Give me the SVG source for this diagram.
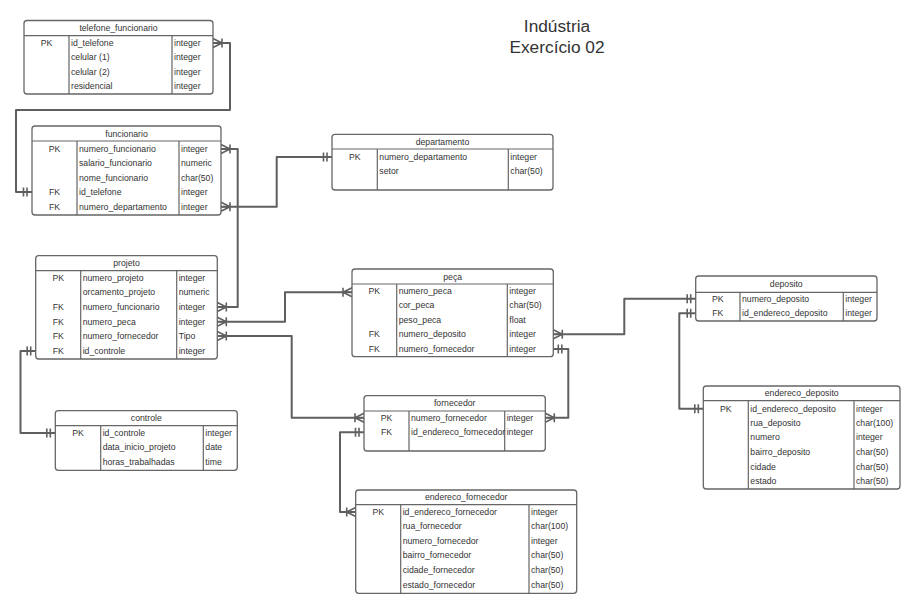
<svg xmlns="http://www.w3.org/2000/svg" width="917" height="609" viewBox="0 0 917 609">
  <style>
    .box { fill: #ffffff; stroke: #666666; stroke-width: 1.3; }
    .sep { stroke: #666666; stroke-width: 1.2; fill: none; }
    .t { font-family: "Liberation Sans", Arial, sans-serif; font-size: 8.7px; fill: #333333; }
    .c { text-anchor: middle; }
    .title { font-family: "Liberation Sans", Arial, sans-serif; font-size: 17.3px; fill: #333333; text-anchor: middle; }
    .link { fill: none; stroke: #5f5f5f; stroke-width: 2; stroke-linejoin: round; }
    .mk { fill: none; stroke: #5f5f5f; stroke-width: 1.6; }
  </style>
  <defs>
    <!-- crow's foot "one or many": toes on the entity edge, bar at the joint -->
    <marker id="many" markerUnits="userSpaceOnUse" orient="auto-start-reverse" overflow="visible" markerWidth="1" markerHeight="1" refX="0" refY="0">
      <path class="mk" d="M-9,0 L0,-4.5 M-9,0 L0,0 M-9,0 L0,4.5 M-9,-4.5 V4.5"/>
    </marker>
    <!-- "exactly one": double bar -->
    <marker id="one" markerUnits="userSpaceOnUse" orient="auto-start-reverse" overflow="visible" markerWidth="1" markerHeight="1" refX="0" refY="0">
      <path class="mk" d="M-5,-4.5 V4.5 M-8.5,-4.5 V4.5"/>
    </marker>
  </defs>

  <rect width="917" height="609" fill="#ffffff"/>

  <text class="title" x="557" y="31.5">Indústria</text>
  <text class="title" x="557" y="52.7">Exercício 02</text>

  <!-- relationships -->
  <g id="connectors">
    <path class="link" d="M213,43 H230 V110 H16 V192 H32" marker-start="url(#many)" marker-end="url(#one)"/>
    <path class="link" d="M221,149 H237.7 V307 H217.3" marker-start="url(#many)" marker-end="url(#many)"/>
    <path class="link" d="M221,206.7 H276.7 V157 H332" marker-start="url(#many)" marker-end="url(#one)"/>
    <path class="link" d="M217.3,321.7 H285 V292.3 H352" marker-start="url(#many)" marker-end="url(#many)"/>
    <path class="link" d="M217.3,336 H291.7 V417.7 H364" marker-start="url(#many)" marker-end="url(#many)"/>
    <path class="link" d="M35.7,351 H20.5 V433 H55.3" marker-start="url(#one)" marker-end="url(#one)"/>
    <path class="link" d="M553.3,334.3 H624.3 V298.7 H695.7" marker-start="url(#many)" marker-end="url(#one)"/>
    <path class="link" d="M553.3,349 H568.3 V417.7 H545.3" marker-start="url(#one)" marker-end="url(#many)"/>
    <path class="link" d="M695.7,313.3 H679.3 V408.7 H703.3" marker-start="url(#one)" marker-end="url(#one)"/>
    <path class="link" d="M364,432.3 H340 V512 H355.7" marker-start="url(#one)" marker-end="url(#many)"/>
  </g>

  <!-- telefone_funcionario -->
  <g id="telefone_funcionario">
    <rect class="box" x="24" y="20.5" width="189" height="73.5" rx="3"/>
    <path class="sep" d="M24,35.7 H213 M69,35.7 V94 M172,35.7 V94"/>
    <text class="t c" x="118.5" y="31">telefone_funcionario</text>
    <text class="t c" x="46.5" y="46">PK</text>
    <text class="t" x="71" y="46">id_telefone</text>
    <text class="t" x="174" y="46">integer</text>
    <text class="t" x="71" y="60.3">celular (1)</text>
    <text class="t" x="174" y="60.3">integer</text>
    <text class="t" x="71" y="74.7">celular (2)</text>
    <text class="t" x="174" y="74.7">integer</text>
    <text class="t" x="71" y="89">residencial</text>
    <text class="t" x="174" y="89">integer</text>
  </g>

  <!-- funcionario -->
  <g id="funcionario">
    <rect class="box" x="32" y="126" width="189" height="89" rx="3"/>
    <path class="sep" d="M32,141 H221 M77,141 V215 M179,141 V215"/>
    <text class="t c" x="126.5" y="136.5">funcionario</text>
    <text class="t c" x="54.5" y="152">PK</text>
    <text class="t" x="79" y="152">numero_funcionario</text>
    <text class="t" x="181" y="152">integer</text>
    <text class="t" x="79" y="166.3">salario_funcionario</text>
    <text class="t" x="181" y="166.3">numeric</text>
    <text class="t" x="79" y="180.7">nome_funcionario</text>
    <text class="t" x="181" y="180.7">char(50)</text>
    <text class="t c" x="54.5" y="195">FK</text>
    <text class="t" x="79" y="195">id_telefone</text>
    <text class="t" x="181" y="195">integer</text>
    <text class="t c" x="54.5" y="209.7">FK</text>
    <text class="t" x="79" y="209.7">numero_departamento</text>
    <text class="t" x="181" y="209.7">integer</text>
  </g>

  <!-- departamento -->
  <g id="departamento">
    <rect class="box" x="332" y="134.3" width="221" height="55.7" rx="3"/>
    <path class="sep" d="M332,149 H553 M377.3,149 V190 M508.3,149 V190"/>
    <text class="t c" x="442.5" y="144.7">departamento</text>
    <text class="t c" x="354.7" y="159.7">PK</text>
    <text class="t" x="379.3" y="159.7">numero_departamento</text>
    <text class="t" x="510.3" y="159.7">integer</text>
    <text class="t" x="379.3" y="174.3">setor</text>
    <text class="t" x="510.3" y="174.3">char(50)</text>
  </g>

  <!-- projeto -->
  <g id="projeto">
    <rect class="box" x="35.7" y="255.7" width="181.6" height="103.3" rx="3"/>
    <path class="sep" d="M35.7,270.7 H217.3 M80.7,270.7 V359 M176.7,270.7 V359"/>
    <text class="t c" x="126.5" y="266.2">projeto</text>
    <text class="t c" x="58.2" y="281">PK</text>
    <text class="t" x="82.7" y="281">numero_projeto</text>
    <text class="t" x="178.7" y="281">integer</text>
    <text class="t" x="82.7" y="295.3">orcamento_projeto</text>
    <text class="t" x="178.7" y="295.3">numeric</text>
    <text class="t c" x="58.2" y="310">FK</text>
    <text class="t" x="82.7" y="310">numero_funcionario</text>
    <text class="t" x="178.7" y="310">integer</text>
    <text class="t c" x="58.2" y="324.7">FK</text>
    <text class="t" x="82.7" y="324.7">numero_peca</text>
    <text class="t" x="178.7" y="324.7">integer</text>
    <text class="t c" x="58.2" y="339">FK</text>
    <text class="t" x="82.7" y="339">numero_fornecedor</text>
    <text class="t" x="178.7" y="339">Tipo</text>
    <text class="t c" x="58.2" y="354">FK</text>
    <text class="t" x="82.7" y="354">id_controle</text>
    <text class="t" x="178.7" y="354">integer</text>
  </g>

  <!-- peça -->
  <g id="peca">
    <rect class="box" x="352" y="269" width="201.3" height="87.7" rx="3"/>
    <path class="sep" d="M352,284 H553.3 M396.7,284 V356.7 M507.3,284 V356.7"/>
    <text class="t c" x="452.7" y="279.5">peça</text>
    <text class="t c" x="374.3" y="293.7">PK</text>
    <text class="t" x="398.7" y="293.7">numero_peca</text>
    <text class="t" x="509.3" y="293.7">integer</text>
    <text class="t" x="398.7" y="308.3">cor_peca</text>
    <text class="t" x="509.3" y="308.3">char(50)</text>
    <text class="t" x="398.7" y="323">peso_peca</text>
    <text class="t" x="509.3" y="323">float</text>
    <text class="t c" x="374.3" y="337.3">FK</text>
    <text class="t" x="398.7" y="337.3">numero_deposito</text>
    <text class="t" x="509.3" y="337.3">integer</text>
    <text class="t c" x="374.3" y="352">FK</text>
    <text class="t" x="398.7" y="352">numero_fornecedor</text>
    <text class="t" x="509.3" y="352">integer</text>
  </g>

  <!-- deposito -->
  <g id="deposito">
    <rect class="box" x="695.7" y="276" width="181.3" height="45" rx="3"/>
    <path class="sep" d="M695.7,292.3 H877 M740,292.3 V321 M843.3,292.3 V321"/>
    <text class="t c" x="786.3" y="287">deposito</text>
    <text class="t c" x="717.8" y="301.7">PK</text>
    <text class="t" x="742" y="301.7">numero_deposito</text>
    <text class="t" x="845.3" y="301.7">integer</text>
    <text class="t c" x="717.8" y="316.3">FK</text>
    <text class="t" x="742" y="316.3">id_endereco_deposito</text>
    <text class="t" x="845.3" y="316.3">integer</text>
  </g>

  <!-- endereco_deposito -->
  <g id="endereco_deposito">
    <rect class="box" x="703.3" y="386" width="196.7" height="103" rx="3"/>
    <path class="sep" d="M703.3,400.7 H900 M748.3,400.7 V489 M854,400.7 V489"/>
    <text class="t c" x="801.7" y="396.3">endereco_deposito</text>
    <text class="t c" x="725.8" y="411.7">PK</text>
    <text class="t" x="750.3" y="411.7">id_endereco_deposito</text>
    <text class="t" x="856" y="411.7">integer</text>
    <text class="t" x="750.3" y="426">rua_deposito</text>
    <text class="t" x="856" y="426">char(100)</text>
    <text class="t" x="750.3" y="440.3">numero</text>
    <text class="t" x="856" y="440.3">integer</text>
    <text class="t" x="750.3" y="454.7">bairro_deposito</text>
    <text class="t" x="856" y="454.7">char(50)</text>
    <text class="t" x="750.3" y="469.7">cidade</text>
    <text class="t" x="856" y="469.7">char(50)</text>
    <text class="t" x="750.3" y="483.7">estado</text>
    <text class="t" x="856" y="483.7">char(50)</text>
  </g>

  <!-- controle -->
  <g id="controle">
    <rect class="box" x="55.3" y="410.7" width="182" height="59.6" rx="3"/>
    <path class="sep" d="M55.3,425.7 H237.3 M100.7,425.7 V470.3 M203.3,425.7 V470.3"/>
    <text class="t c" x="146.3" y="421.2">controle</text>
    <text class="t c" x="78" y="436">PK</text>
    <text class="t" x="102.7" y="436">id_controle</text>
    <text class="t" x="205.3" y="436">integer</text>
    <text class="t" x="102.7" y="450.3">data_inicio_projeto</text>
    <text class="t" x="205.3" y="450.3">date</text>
    <text class="t" x="102.7" y="464.7">horas_trabalhadas</text>
    <text class="t" x="205.3" y="464.7">time</text>
  </g>

  <!-- fornecedor -->
  <g id="fornecedor">
    <rect class="box" x="364" y="395.7" width="181.3" height="55.3" rx="3"/>
    <path class="sep" d="M364,411 H545.3 M409,411 V451 M504.7,411 V451"/>
    <text class="t c" x="454.7" y="406.3">fornecedor</text>
    <text class="t c" x="386.5" y="420.7">PK</text>
    <text class="t" x="411" y="420.7">numero_fornecedor</text>
    <text class="t" x="506.7" y="420.7">integer</text>
    <text class="t c" x="386.5" y="435.3">FK</text>
    <text class="t" x="411" y="435.3">id_endereco_fornecedor</text>
    <text class="t" x="506.7" y="435.3">integer</text>
  </g>

  <!-- endereco_fornecedor -->
  <g id="endereco_fornecedor">
    <rect class="box" x="355.7" y="490" width="221" height="103.3" rx="3"/>
    <path class="sep" d="M355.7,504.7 H576.7 M400.7,504.7 V593.3 M529,504.7 V593.3"/>
    <text class="t c" x="466.2" y="500.3">endereco_fornecedor</text>
    <text class="t c" x="378.2" y="515">PK</text>
    <text class="t" x="402.7" y="515">id_endereco_fornecedor</text>
    <text class="t" x="531" y="515">integer</text>
    <text class="t" x="402.7" y="529.3">rua_fornecedor</text>
    <text class="t" x="531" y="529.3">char(100)</text>
    <text class="t" x="402.7" y="544">numero_fornecedor</text>
    <text class="t" x="531" y="544">integer</text>
    <text class="t" x="402.7" y="558.3">bairro_fornecedor</text>
    <text class="t" x="531" y="558.3">char(50)</text>
    <text class="t" x="402.7" y="573">cidade_fornecedor</text>
    <text class="t" x="531" y="573">char(50)</text>
    <text class="t" x="402.7" y="587.7">estado_fornecedor</text>
    <text class="t" x="531" y="587.7">char(50)</text>
  </g>
</svg>
